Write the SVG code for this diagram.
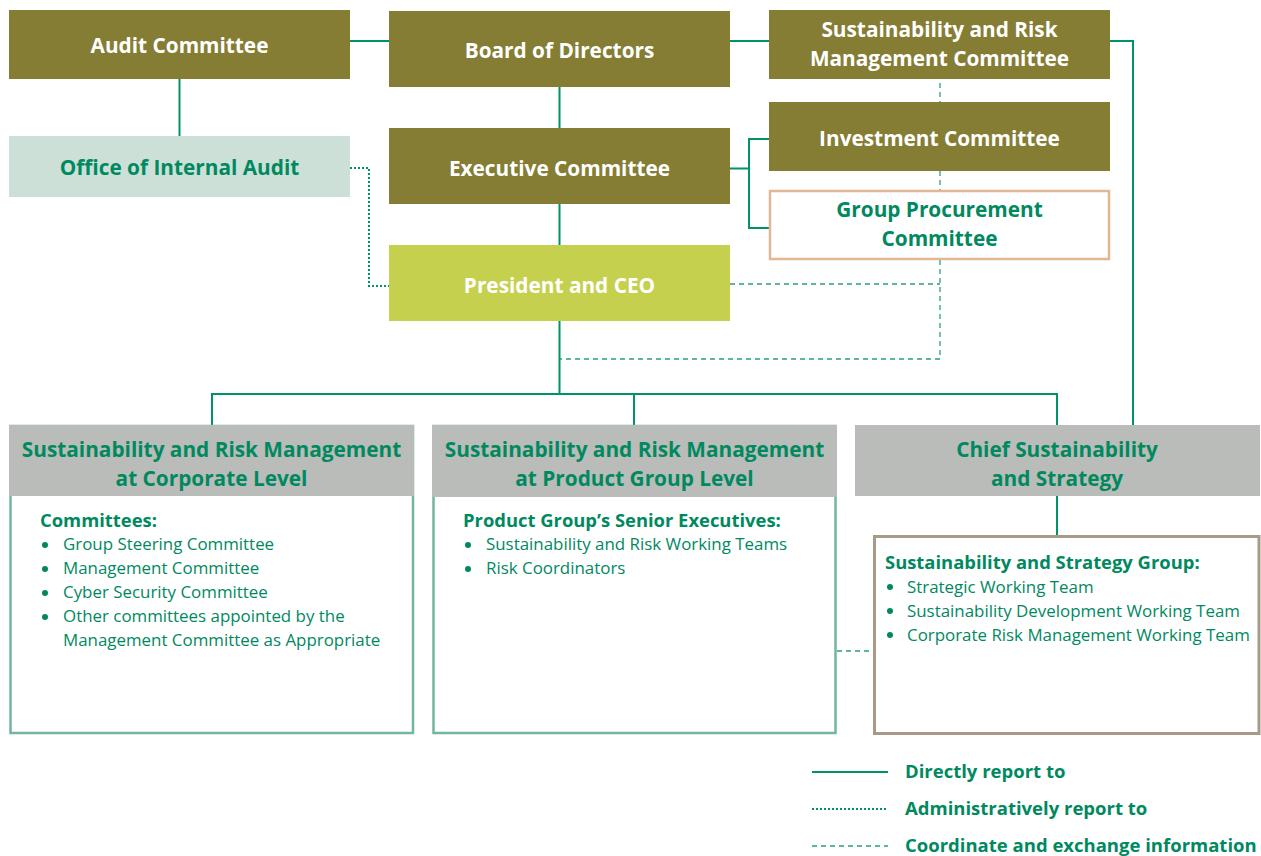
<svg xmlns="http://www.w3.org/2000/svg" width="1261" height="856" viewBox="0 0 1261 856">
<style>
.olive{fill:#857d34}
.wt{fill:#fff;font-family:"Open Sans","Noto Sans",sans-serif;font-weight:700;font-size:20.8px;text-anchor:middle}
.gt{fill:#00895f;font-family:"Open Sans","Noto Sans",sans-serif;font-weight:700;font-size:20.8px;text-anchor:middle}
.hd{fill:#00895f;font-family:"Open Sans","Noto Sans",sans-serif;font-weight:700;font-size:18.4px}
.it{fill:#00895f;font-family:"Open Sans","Noto Sans",sans-serif;font-size:16.9px}
.lg{fill:#00895f;font-family:"Open Sans","Noto Sans",sans-serif;font-weight:700;font-size:18.5px}
.solid{stroke:#00936a;stroke-width:2;fill:none}
.dot{stroke:#00936a;stroke-width:2;fill:none;stroke-dasharray:2 2}
.dash{stroke:#2aa07c;stroke-width:1.3;fill:none;stroke-dasharray:5 4}
.bul{fill:#00895f}
</style>
<g id="connectors">
<path class="solid" d="M350 41H389M730 41H769"/>
<path class="solid" d="M179.5 79V136"/>
<path class="solid" d="M559.5 87V128M559.5 203V245M559.5 320V394"/>
<path class="solid" d="M730 168.5H749M769 139H749V228H769"/>
<path class="solid" d="M1110 41H1133V425"/>
<path class="solid" d="M212 425V394H1057V425M634 394V425"/>
<path class="solid" d="M1057 496V536"/>
<path class="dot" d="M350 168H369V286H389"/>
<path class="dash" d="M940 83V102M940 171V191M940 260V359H560M730 284H940"/>
<path class="dash" d="M837 651H873"/>
</g>
<g id="audit-committee"><rect class="olive" x="9" y="10" width="341" height="69"/><text class="wt" x="179.5" y="53">Audit Committee</text></g>
<g id="board"><rect class="olive" x="389" y="11" width="341" height="76"/><text class="wt" x="559.5" y="58">Board of Directors</text></g>
<g id="srm-committee"><rect class="olive" x="769" y="10" width="341" height="69"/><text class="wt" x="939.5" y="37">Sustainability and Risk</text><text class="wt" x="939.5" y="66">Management Committee</text></g>
<g id="investment"><rect class="olive" x="769" y="102" width="341" height="69"/><text class="wt" x="939.5" y="146">Investment Committee</text></g>
<g id="procurement"><rect x="770" y="191" width="339" height="68" fill="#fff" stroke="#e2b793" stroke-width="2.5"/><text class="gt" x="939.5" y="217">Group Procurement</text><text class="gt" x="939.5" y="246">Committee</text></g>
<g id="internal-audit"><rect x="9" y="136" width="341" height="61" fill="#cce0d8"/><text class="gt" x="179.5" y="175">Office of Internal Audit</text></g>
<g id="executive"><rect class="olive" x="389" y="128" width="341" height="76"/><text class="wt" x="559.5" y="176">Executive Committee</text></g>
<g id="president"><rect x="389" y="245" width="341" height="76" fill="#c5d04f"/><text class="wt" x="559.5" y="293">President and CEO</text></g>
<g id="corporate">
<rect x="10.5" y="426" width="402.5" height="307" fill="#fff" stroke="#72b79c" stroke-width="2.5"/>
<rect x="9" y="425" width="405" height="71" fill="#b9bcb8"/>
<text class="gt" x="211.5" y="457">Sustainability and Risk Management</text>
<text class="gt" x="211.5" y="486">at Corporate Level</text>
<text class="hd" x="40" y="527">Committees:</text>
<circle class="bul" cx="45" cy="545" r="3"/><text class="it" x="63" y="550">Group Steering Committee</text>
<circle class="bul" cx="45" cy="569" r="3"/><text class="it" x="63" y="574">Management Committee</text>
<circle class="bul" cx="45" cy="593" r="3"/><text class="it" x="63" y="598">Cyber Security Committee</text>
<circle class="bul" cx="45" cy="617" r="3"/><text class="it" x="63" y="622">Other committees appointed by the</text>
<text class="it" x="63" y="646">Management Committee as Appropriate</text>
</g>
<g id="product-group">
<rect x="433.5" y="426" width="402" height="307" fill="#fff" stroke="#72b79c" stroke-width="2.5"/>
<rect x="432" y="425" width="405" height="72" fill="#b9bcb8"/>
<text class="gt" x="634.5" y="457">Sustainability and Risk Management</text>
<text class="gt" x="634.5" y="486">at Product Group Level</text>
<text class="hd" x="463" y="527">Product Group’s Senior Executives:</text>
<circle class="bul" cx="468" cy="545" r="3"/><text class="it" x="486" y="550">Sustainability and Risk Working Teams</text>
<circle class="bul" cx="468" cy="569" r="3"/><text class="it" x="486" y="574">Risk Coordinators</text>
</g>
<g id="chief"><rect x="855" y="425" width="405" height="71" fill="#b9bcb8"/><text class="gt" x="1057" y="457">Chief Sustainability</text><text class="gt" x="1057" y="486">and Strategy</text></g>
<g id="strategy-group">
<rect x="874.5" y="536.5" width="384.5" height="197" fill="#fff" stroke="#a89a86" stroke-width="3"/>
<text class="hd" x="885" y="569">Sustainability and Strategy Group:</text>
<circle class="bul" cx="890" cy="587" r="3"/><text class="it" x="907" y="593">Strategic Working Team</text>
<circle class="bul" cx="890" cy="611" r="3"/><text class="it" x="907" y="617">Sustainability Development Working Team</text>
<circle class="bul" cx="890" cy="635" r="3"/><text class="it" x="907" y="641">Corporate Risk Management Working Team</text>
</g>
<g id="legend">
<path class="solid" d="M812 772H888"/>
<path class="dot" d="M812 809H888" stroke-width="1.5" stroke-dasharray="1.5 1.5"/>
<path class="dash" d="M812 846H888"/>
<text class="lg" x="905" y="778">Directly report to</text>
<text class="lg" x="905" y="815">Administratively report to</text>
<text class="lg" x="905" y="852">Coordinate and exchange information</text>
</g>
</svg>
